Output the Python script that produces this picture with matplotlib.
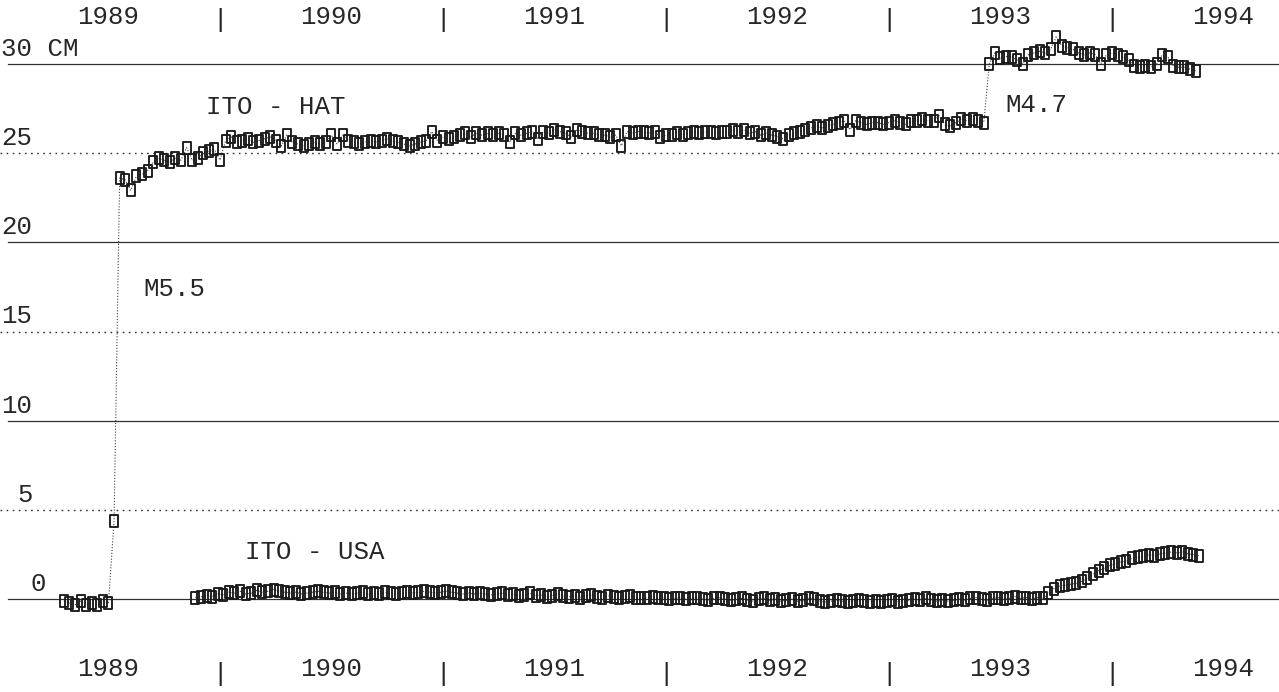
import numpy as np
import matplotlib
matplotlib.use("Agg")
import matplotlib.pyplot as plt
from matplotlib.path import Path

# ---------------- data ----------------
years = [1989, 1990, 1991, 1992, 1993, 1994]
gridlines_solid = [0, 10, 20, 30]
gridlines_dotted = [5, 15, 25]
ytick_labels = ["0", "5", "10", "15", "20", "25", "30 CM"]
ytick_values = [0, 5, 10, 15, 20, 25, 30]

step = 0.025  # sampling interval (years)

hat_start = 1989.30
hat_pre = [-0.1, -0.2, -0.3, -0.1, -0.3, -0.2, -0.3, -0.1, -0.2]
hat_quake = [4.4]
hat_mid = [23.6, 23.5, 22.9, 23.7, 23.8, 24.0, 24.5, 24.7, 24.6, 24.5,
           24.7, 24.6, 25.3, 24.6, 24.7, 25.0, 25.1, 25.2, 24.6, 25.7,
           25.9, 25.6, 25.7, 25.8, 25.6, 25.7, 25.8, 25.9, 25.7, 25.4,
           26.0, 25.6, 25.5, 25.4, 25.5, 25.6, 25.5, 25.6, 26.0, 25.5,
           26.0, 25.7, 25.6, 25.5, 25.6, 25.7, 25.6, 25.7, 25.8, 25.7,
           25.6, 25.5, 25.4, 25.5, 25.6, 25.7, 26.2, 25.7, 25.9, 25.8,
           25.9, 26.0, 26.1, 25.9, 26.1, 26.0, 26.1, 26.0, 26.1, 26.0,
           25.6, 26.1, 26.0, 26.1, 26.2, 25.8, 26.2, 26.1, 26.3, 26.2,
           26.1, 25.9, 26.3, 26.2, 26.1, 26.1, 26.0, 26.0, 25.9, 26.0,
           25.4, 26.2, 26.1, 26.2, 26.2, 26.1, 26.2, 25.9, 26.0, 26.0,
           26.1, 26.0, 26.1, 26.2, 26.1, 26.2, 26.2, 26.1, 26.2, 26.2,
           26.3, 26.2, 26.3, 26.1, 26.2, 26.0, 26.1, 26.0, 25.9, 25.8,
           26.0, 26.1, 26.2, 26.3, 26.4, 26.5, 26.4, 26.5, 26.6, 26.7,
           26.8, 26.3, 26.8, 26.7, 26.6, 26.7, 26.7, 26.6, 26.7, 26.8,
           26.7, 26.6, 26.8, 26.8, 26.9, 26.8, 26.8, 27.1, 26.6, 26.5,
           26.7, 26.9, 26.8, 26.9, 26.8, 26.7]
hat_post = [30.0, 30.6, 30.3, 30.4, 30.4, 30.2, 30.0, 30.5, 30.6, 30.7,
            30.6, 30.8, 31.5, 31.0, 30.9, 30.8, 30.6, 30.5, 30.6, 30.5,
            30.0, 30.5, 30.6, 30.5, 30.4, 30.2, 29.9, 29.8, 29.9, 29.8,
            30.0, 30.5, 30.4, 29.9, 29.8, 29.8, 29.7, 29.6]

usa_start = 1989.89
usa_values = [0.1, 0.15, 0.2, 0.15, 0.3, 0.25, 0.4, 0.35, 0.45, 0.3,
              0.35, 0.5, 0.4, 0.45, 0.55, 0.45, 0.4, 0.35, 0.4, 0.3,
              0.35, 0.4, 0.45, 0.4, 0.35, 0.4, 0.3, 0.35, 0.3, 0.35,
              0.4, 0.3, 0.35, 0.3, 0.4, 0.35, 0.3, 0.35, 0.4, 0.35,
              0.4, 0.45, 0.4, 0.35, 0.4, 0.45, 0.4, 0.35, 0.3, 0.35,
              0.3, 0.35, 0.3, 0.25, 0.3, 0.35, 0.25, 0.3, 0.2, 0.25,
              0.35, 0.2, 0.25, 0.15, 0.2, 0.3, 0.2, 0.15, 0.2, 0.1,
              0.2, 0.25, 0.15, 0.1, 0.2, 0.15, 0.1, 0.15, 0.2, 0.1,
              0.05, 0.1, 0.15, 0.05, 0.1, 0.0, 0.05, 0.1, 0.0, 0.05,
              0.1, 0.0, -0.05, 0.05, 0.1, 0.0, -0.05, 0.0, 0.05, -0.05,
              -0.1, 0.0, 0.05, -0.05, 0.0, -0.1, -0.05, 0.0, -0.1, -0.05,
              0.05, 0.0, -0.1, -0.15, -0.1, -0.05, -0.1, -0.15, -0.1, -0.05,
              -0.1, -0.15, -0.1, -0.15, -0.1, -0.05, -0.15, -0.1, -0.05, 0.0,
              -0.05, 0.05, -0.05, -0.1, -0.05, -0.1, -0.05, 0.0, -0.05, 0.05,
              0.1, 0.0, -0.05, 0.05, 0.1, 0.0, 0.05, 0.15, 0.05, 0.1,
              0.0, 0.1, 0.05, 0.35, 0.6, 0.75, 0.8, 0.85, 0.9, 1.0,
              1.2, 1.4, 1.6, 1.75, 1.9, 2.0, 2.1, 2.15, 2.3, 2.35,
              2.4, 2.5, 2.45, 2.55, 2.6, 2.65, 2.6, 2.65, 2.55, 2.5,
              2.45]

hat_values = np.array(hat_pre + hat_quake + hat_mid + hat_post)
hat_t = hat_start + step * np.arange(len(hat_values))
usa_values = np.array(usa_values)
usa_t = usa_start + step * np.arange(len(usa_values))

# ---------------- figure ----------------
W, H = 1279, 692
fig = plt.figure(figsize=(W / 100, H / 100), dpi=100)
ax = fig.add_axes([0, 0, 1, 1])
ax.set_xlim(1989.0135, 1994.749)
ax.set_ylim(-5.19, 33.57)
ax.axis("off")

ink = "#262626"
font = dict(family=["Liberation Mono", "DejaVu Sans Mono"], size=18.5, color=ink)

for v in gridlines_solid:
    ax.axhline(v, xmin=0.006, xmax=1, color="#303030", lw=0.9, zorder=1)
for v in gridlines_dotted:
    ax.axhline(v, xmin=0, xmax=1, color="#303030", lw=1.0,
               linestyle=(0, (1.2, 3.2)), zorder=1)

# rectangular open markers
rect = Path([(-0.36, -0.5), (0.36, -0.5), (0.36, 0.5), (-0.36, 0.5), (-0.36, -0.5)],
            [Path.MOVETO, Path.LINETO, Path.LINETO, Path.LINETO, Path.CLOSEPOLY])

for t, v in [(hat_t, hat_values), (usa_t, usa_values)]:
    ax.plot(t, v, linestyle=(0, (1, 1.6)), lw=0.8, color="#404040", zorder=2)
    ax.plot(t, v, linestyle="none", marker=rect, markersize=8.2,
            markerfacecolor="none", markeredgecolor="#1a1a1a",
            markeredgewidth=1.35, zorder=3)

# value labels
xlab = {"0": 1989.13, "5": 1989.07, "10": 1989.0, "15": 1989.0,
        "20": 1989.0, "25": 1989.0, "30 CM": 1989.0}
for lab, v in zip(ytick_labels, ytick_values):
    ax.text(xlab[lab] + 0.02, v + 0.85, lab, ha="left", va="center", **font)

# year labels top and bottom
trans = ax.get_xaxis_transform()
for y in years:
    ax.text(y + 0.5, 1 - 17.5 / H, str(y), ha="center", va="center",
            transform=trans, **font)
    ax.text(y + 0.5, 1 - 669 / H, str(y), ha="center", va="center",
            transform=trans, **font)
for y in years[1:]:
    ax.text(y, 1 - 20 / H, "|", ha="center", va="center", transform=trans, **font)
    ax.text(y, 1 - 674 / H, "|", ha="center", va="center", transform=trans, **font)

# annotations
ax.text(1990.25, 27.6, "ITO - HAT", ha="center", va="center", **font)
ax.text(1990.425, 2.63, "ITO - USA", ha="center", va="center", **font)
ax.text(1989.655, 17.4, "M5.5", ha="left", va="center", **font)
ax.text(1993.52, 27.7, "M4.7", ha="left", va="center", **font)

fig.savefig("out.png", dpi=100, facecolor="white")
